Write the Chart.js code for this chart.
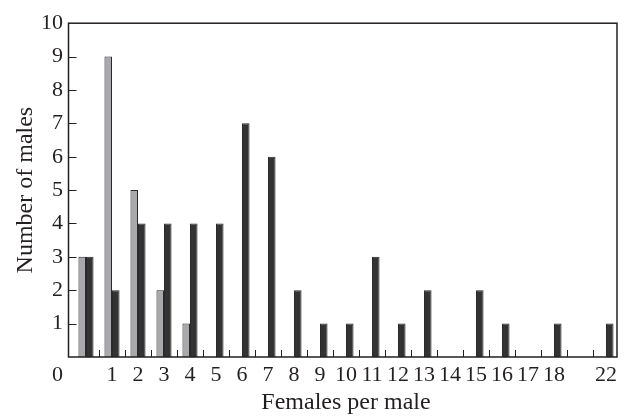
<!DOCTYPE html>
<html>
<head>
<meta charset="utf-8">
<script src="https://cdn.jsdelivr.net/npm/chart.js@4.4.1/dist/chart.umd.min.js"></script>
<style>
  html, body { margin: 0; padding: 0; background: #fff; }
  #wrap { width: 626px; height: 417px; }
</style>
</head>
<body>
<div id="wrap"><canvas id="harem"></canvas></div>
<script>
// Females per male (first category is 0, its label sits by the y axis)
var categories = ['', '1', '2', '3', '4', '5', '6', '7', '8', '9', '10', '11', '12',
                  '13', '14', '15', '16', '17', '18', '', '22'];
var greyCounts = [3, 9, 5, 2, 1, null, null, null, null, null, null, null, null,
                  null, null, null, null, null, null, null, null];
var blackCounts = [3, 2, 4, 4, 4, 4, 7, 6, 2, 1, 1, 3, 1, 2, 0, 2, 1, 0, 1, 0, 1];
var yTicks = [0, 1, 2, 3, 4, 5, 6, 7, 8, 9, 10];

var ink = '#231f20';
var serif = "'Liberation Serif', 'DejaVu Serif', serif";

// frame, inward tick marks and the shared "0"
var framePlugin = {
    id: 'frame',
    afterDraw: function (chart) {
        var c = chart.ctx, a = chart.chartArea;
        var x = chart.scales.x, y = chart.scales.y;
        var L = a.left - 4.5, R = a.right - 2, T = a.top, B = a.bottom;
        c.save();
        c.strokeStyle = ink;
        c.lineWidth = 1.5;
        c.strokeRect(L, T, R - L, B - T);
        c.lineWidth = 1;
        c.beginPath();
        for (var v = 1; v < 10; v++) {
            var py = Math.round(y.getPixelForValue(v)) + 0.5;
            c.moveTo(L, py);
            c.lineTo(L + 8, py);
        }
        var step = x.getPixelForValue(1) - x.getPixelForValue(0);
        for (var i = 0; i < categories.length - 1; i++) {
            var px = Math.round(x.getPixelForValue(i) + step / 2) + 0.5;
            c.moveTo(px, B);
            c.lineTo(px, B - 7);
        }
        c.stroke();
        c.fillStyle = ink;
        c.font = '22px ' + serif;
        c.textAlign = 'right';
        c.textBaseline = 'middle';
        c.fillText('0', a.left - 10, B + 18);
        c.restore();
    }
};

var ctx = document.getElementById('harem').getContext('2d');
var chart = new Chart(ctx, {
    type: 'bar',
    data: {
        labels: categories,
        datasets: [{
            label: 'Grey',
            data: greyCounts,
            backgroundColor: '#a8a9ac',
            borderColor: '#2a2a2a',
            borderWidth: 1,
            borderSkipped: 'bottom'
        }, {
            label: 'Black',
            data: blackCounts,
            backgroundColor: '#333333',
            borderColor: '#2a2a2a',
            borderWidth: 1,
            borderSkipped: 'bottom'
        }]
    },
    options: {
        responsive: true,
        maintainAspectRatio: false,
        animation: false,
        layout: { padding: { top: 16, right: 7, left: 0, bottom: 0 } },
        datasets: { bar: { categoryPercentage: 0.58, barPercentage: 1 } },
        plugins: { legend: { display: false }, tooltip: { enabled: false } },
        scales: {
            x: {
                grid: { display: false, drawTicks: false },
                border: { display: false },
                ticks: {
                    autoSkip: false, maxRotation: 0, padding: 5,
                    color: ink, font: { family: serif, size: 22 }
                },
                title: {
                    display: true, text: 'Females per male', color: ink,
                    font: { family: serif, size: 24 }, padding: { top: 0, bottom: 0 }
                },
                afterFit: function (s) { s.height = 60; }
            },
            y: {
                min: 0, max: 10,
                grid: { display: false, drawTicks: false },
                border: { display: false },
                afterBuildTicks: function (s) {
                    s.ticks = yTicks.map(function (v) { return { value: v }; });
                },
                ticks: {
                    padding: 10, color: ink, font: { family: serif, size: 22 },
                    callback: function (v) { return v === 0 ? '' : v; }
                },
                title: {
                    display: true, text: 'Number of males', color: ink,
                    font: { family: serif, size: 24 }, padding: { top: 11, bottom: 0 }
                },
                afterFit: function (s) { s.width = 73; }
            }
        }
    },
    plugins: [framePlugin]
});
</script>
</body>
</html>
